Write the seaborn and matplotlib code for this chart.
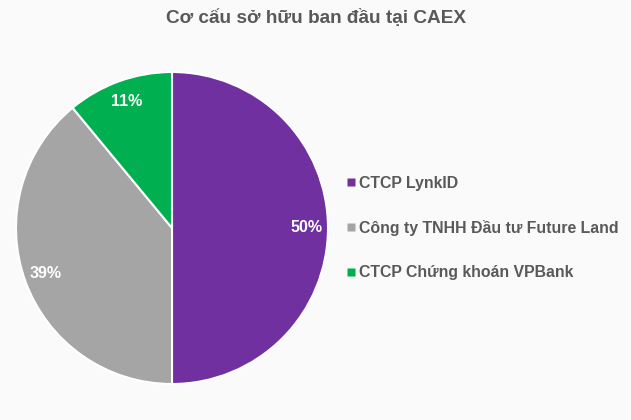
import matplotlib
matplotlib.use('Agg')
import matplotlib.pyplot as plt
import seaborn as sns
from matplotlib.lines import Line2D

# Data
owners = ['CTCP LynkID', 'Công ty TNHH Đầu tư Future Land', 'CTCP Chứng khoán VPBank']
shares = [50, 39, 11]
colors = sns.color_palette(['#7030A0', '#A5A5A5', '#00B050'])

sns.set_theme(style='white')
plt.rcParams['font.family'] = ['Liberation Sans', 'DejaVu Sans']

bg = '#FAFAFA'
fig = plt.figure(figsize=(6.31, 4.2), dpi=100, facecolor=bg)
W, H = 631, 420
cx, cy, r = 172, 420 - 228, 156
ax = fig.add_axes([(cx - r) / W, (cy - r) / H, 2 * r / W, 2 * r / H])
ax.set_facecolor(bg)

wedges, texts, autotexts = ax.pie(
    shares, colors=colors, startangle=90, counterclock=False,
    autopct='%d%%', pctdistance=0.86,
    wedgeprops=dict(edgecolor='white', linewidth=1.5),
    textprops=dict(color='white', fontsize=11.5, fontweight='bold'))
ax.set_xlim(-1, 1)
ax.set_ylim(-1, 1)
ax.set_aspect('equal')
ax.axis('off')

fig.text(316 / W, 1 - 18 / H, 'Cơ cấu sở hữu ban đầu tại CAEX', ha='center', va='center',
         fontsize=13.7, fontweight='bold', color='#595959')

handles = [Line2D([0], [0], marker='s', color='none', markerfacecolor=c,
                  markeredgecolor='none', markersize=5.5) for c in colors]
leg = fig.legend(handles, owners, loc='center left', bbox_to_anchor=(333 / W, 1 - 228 / H),
                 frameon=False, handlelength=0.5, handletextpad=0.25, labelspacing=1.85,
                 prop=dict(size=11.4, weight='bold'), labelcolor='#595959')

fig.savefig('out.png', dpi=100, facecolor=bg)
